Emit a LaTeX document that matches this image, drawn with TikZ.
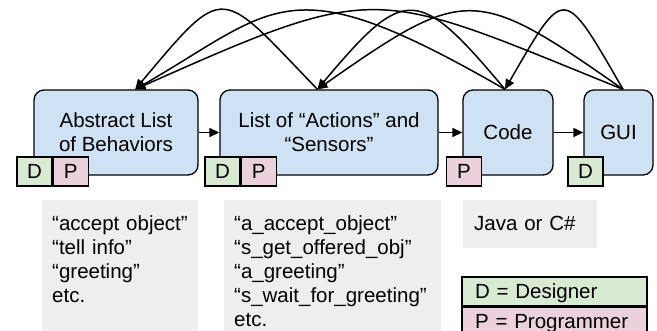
\documentclass[tikz,border=0pt]{standalone}
\usepackage{fontspec}
\setmainfont{Liberation Sans}
\usepackage{tikz}
\usepackage{xcolor}
\usetikzlibrary{arrows.meta, positioning}

\definecolor{stageblue}{HTML}{CFE2F3}
\definecolor{desgreen}{HTML}{D9EAD3}
\definecolor{progpink}{HTML}{EAD1DC}
\definecolor{notegray}{HTML}{EEEEEE}

\newcommand{\bigtext}{\fontsize{20.5}{24}\selectfont}

\begin{document}
\begin{tikzpicture}[x=1pt, y=1pt,
        stage/.style={draw, rounded corners=10pt, fill=stageblue, line width=1.3pt, minimum height=85pt, align=center, font=\bigtext},
        tag/.style={draw, line width=1.3pt, minimum width=35pt, minimum height=29pt, inner sep=0pt, font=\bigtext},
        note/.style={fill=notegray, anchor=north west, inner xsep=10pt, inner ysep=15pt, text height=15pt, align=left, font=\bigtext},
        keyrow/.style={draw, line width=1.3pt, minimum width=185pt, minimum height=29pt, inner xsep=13pt, inner ysep=4pt, text width=159pt, text height=15pt, text depth=2pt, align=left, font=\bigtext},
        fb/.style={-{Triangle[length=10pt, width=9pt]}, line width=1.5pt}]
        \useasboundingbox (0, 0) rectangle (657, 330);
        \clip (0, 0) rectangle (657, 330);

        \node[stage, minimum width=164pt] (abs) at (116, 197.5) {Abstract List\\of Behaviors};
        \node[stage, minimum width=218pt] (act) at (329, 197.5) {List of “Actions” and\\“Sensors”};
        \node[stage, minimum width=90pt] (code) at (508, 197.5) {Code};
        \node[stage, minimum width=69pt] (gui) at (618.5, 197.5) {GUI};

        \node[tag, fill=desgreen] (absD) at (34.5, 158.5) {D};
        \node[tag, fill=progpink, right=0pt of absD] (absP) {P};
        \node[tag, fill=desgreen] (actD) at (222.5, 158.5) {D};
        \node[tag, fill=progpink, right=0pt of actD] (actP) {P};
        \node[tag, fill=progpink] (codeP) at (464, 158.5) {P};
        \node[tag, fill=desgreen] (guiD) at (585.5, 158.5) {D};

        \node[note, text width=136pt, text depth=115pt] (absnote) at (42, 130) {“accept object”\\“tell info”\\“greeting”\\etc.};
        \node[note, text width=197pt, text depth=115pt] (actnote) at (224, 130) {“a\_accept\_object”\\“s\_get\_offered\_obj”\\“a\_greeting”\\“s\_wait\_for\_greeting”\\etc.};
        \node[note, inner xsep=11pt, text width=112pt, text depth=3pt] (codenote) at (463, 130) {Java or C\#};

        \node[keyrow, fill=desgreen] (deskey) at (554.5, 38.5) {D = Designer};
        \node[keyrow, fill=progpink, below=0pt of deskey] (progkey) {P = Programmer};

        \draw[fb] (abs) -- (act);
        \draw[fb] (act) -- (code);
        \draw[fb] (code) -- (gui);

        \draw[fb] (act.105) to[out=134, in=50, looseness=2] (abs.66);
        \draw[fb] (code.94) to[out=150, in=30, out looseness=1.74, in looseness=1.15] (abs.66);
        \draw[fb] (gui.84) to[out=158, in=24, looseness=1.42] (abs.66);
        \draw[fb] (code.94) to[out=130, in=50, looseness=1.86] (act.105);
        \draw[fb] (gui.84) to[out=145, in=35, looseness=1.52] (act.105);
        \draw[fb] (gui.84) to[out=120, in=60, looseness=2.62] (code.94);
\end{tikzpicture}
\end{document}
